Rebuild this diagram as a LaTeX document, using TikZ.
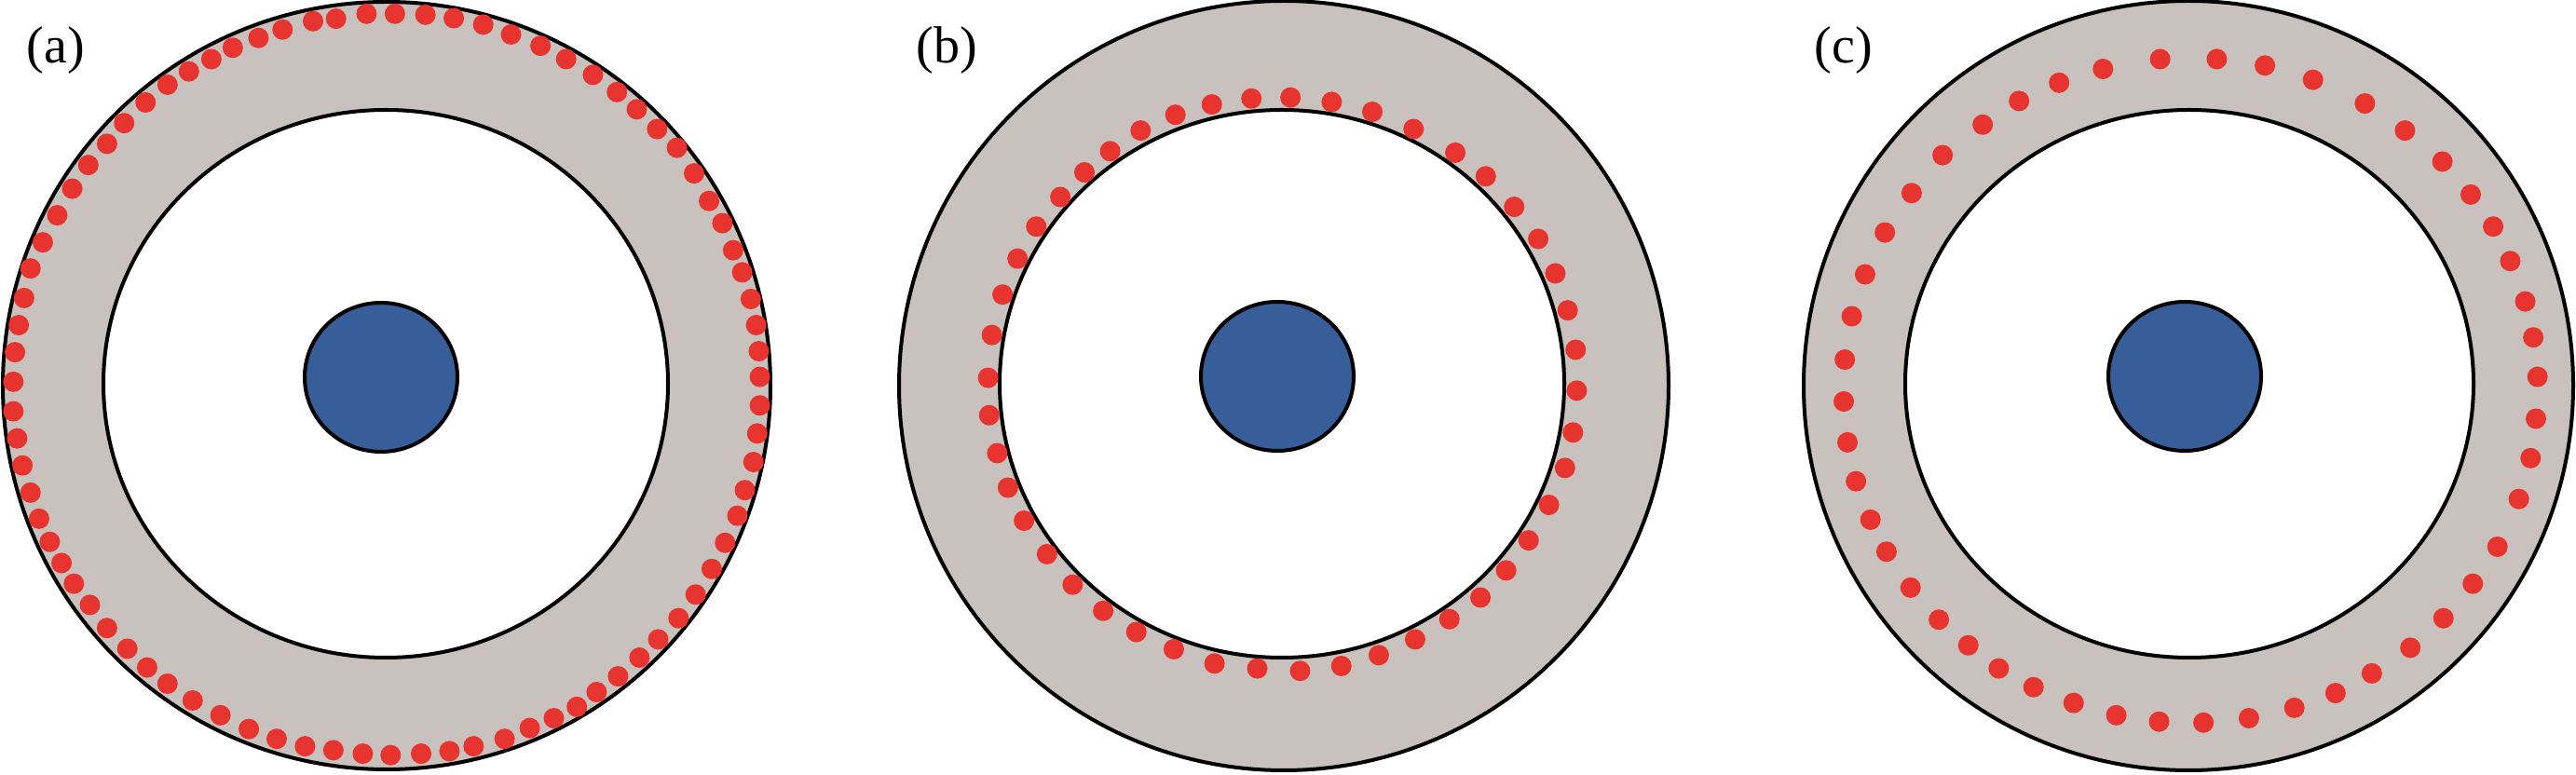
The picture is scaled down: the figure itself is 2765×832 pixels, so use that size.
\documentclass[tikz,border=0pt]{standalone}
\usepackage{fontspec}
\setmainfont{Liberation Serif}
\definecolor{ringgray}{RGB}{200,193,189}
\definecolor{dotred}{RGB}{232,52,46}
\definecolor{coreblue}{RGB}{56,94,154}
\begin{document}
\begin{tikzpicture}[x=0.25pt,y=-0.25pt,
  ring/.style={draw=black,line width=1pt,fill=ringgray},
  hole/.style={draw=black,line width=1pt,fill=white},
  core/.style={draw=black,line width=1pt,fill=coreblue},
  reddot/.style={fill=dotred},
  lbl/.style={anchor=base west,inner sep=0pt,font=\fontsize{14pt}{16pt}\selectfont}]
\useasboundingbox (0,0) rectangle (2765,832);
% ---------- panel (a)
\draw[ring] (415,414) circle[radius=412];
\draw[hole] (414,412) ellipse[x radius=303,y radius=294];
\draw[core] (409,405) ellipse[x radius=82,y radius=80];
\foreach \x/\y in {685/28,738/28,795/30,848/37,903/50,955/70,1010/93,1058/120,1108/152,1153/187,
 1190/222,1228/262,1265/300,1297/352,1325/408,1350/453,1370/508,1387/553,1403/607,1413/660,
 1418/713,1420/765,1420/823,1415/880,1408/938,1392/995,1378/1047,1355/1102,1330/1155,1300/1207,
 1268/1255,1230/1298,1195/1335,1155/1373,1115/1405,1078/1435,1035/1458,990/1478,943/1500,885/1515,
 840/1525,787/1530,730/1533,678/1530,623/1523,570/1515,517/1500,465/1480,412/1452,360/1422,
 313/1388,275/1355,238/1317,200/1275,168/1228,138/1185,115/1143,93/1100,73/1053,57/1000,
 42/945,32/890,25/835,25/775,28/715,35/660,45/605,57/545,80/492,107/437,
 135/383,165/335,200/292,232/250,272/208,313/172,353/145,395/120,435/97,483/77,
 528/60,585/43,628/38}
  \fill[reddot] ({\x/1.741},{\y/1.891}) circle[radius=11];
\node[lbl] (la) at (28,68) {(a)};
% ---------- panel (b)
\draw[ring] (1378,414) circle[radius=413];
\draw[hole] (1376,412) ellipse[x radius=303,y radius=294];
\draw[core] (1371,404) ellipse[x radius=82,y radius=80];
\foreach \x/\y in {775/198,852/207,928/227,1005/262,1083/310,1140/358,1193/420,1238/485,1270/555,1293/630,
 1308/710,1310/793,1303/878,1288/950,1258/1025,1220/1097,1178/1158,1130/1213,1072/1257,1008/1298,
 940/1330,870/1352,793/1362,713/1357,633/1347,557/1318,487/1283,425/1240,368/1187,320/1125,
 277/1057,247/990,227/920,212/843,210/767,217/680,237/598,265/525,300/460,345/400,
 390/350,438/307,495/265,560/233,628/212,702/200}
  \fill[reddot] ({940+\x/1.741},{\y/1.891}) circle[radius=11];
\node[lbl] (lb) at (983,68) {(b)};
% ---------- panel (c)
\draw[ring] (2349,414) circle[radius=413];
\draw[hole] (2350,412) ellipse[x radius=305,y radius=294];
\draw[core] (2345,404) ellipse[x radius=82,y radius=80];
\foreach \x/\y in {782/120,888/120,978/133,1068/162,1165/210,1240/265,1310/328,1363/395,1405/460,1437/530,
 1465/612,1480/685,1488/765,1485/850,1475/930,1453/1013,1413/1110,1367/1185,1312/1255,1250/1315,
 1178/1367,1110/1407,1033/1437,948/1458,863/1467,780/1465,700/1452,620/1427,545/1395,480/1357,
 423/1310,368/1258,315/1193,270/1120,240/1055,213/977,197/898,190/815,192/730,205/642,
 230/557,267/472,317/392,375/315,450/253,518/205,593/168,675/140}
  \fill[reddot] ({1870+\x/1.743},{\y/1.891}) circle[radius=11];
\node[lbl] (lc) at (1947,68) {(c)};
\end{tikzpicture}
\end{document}
